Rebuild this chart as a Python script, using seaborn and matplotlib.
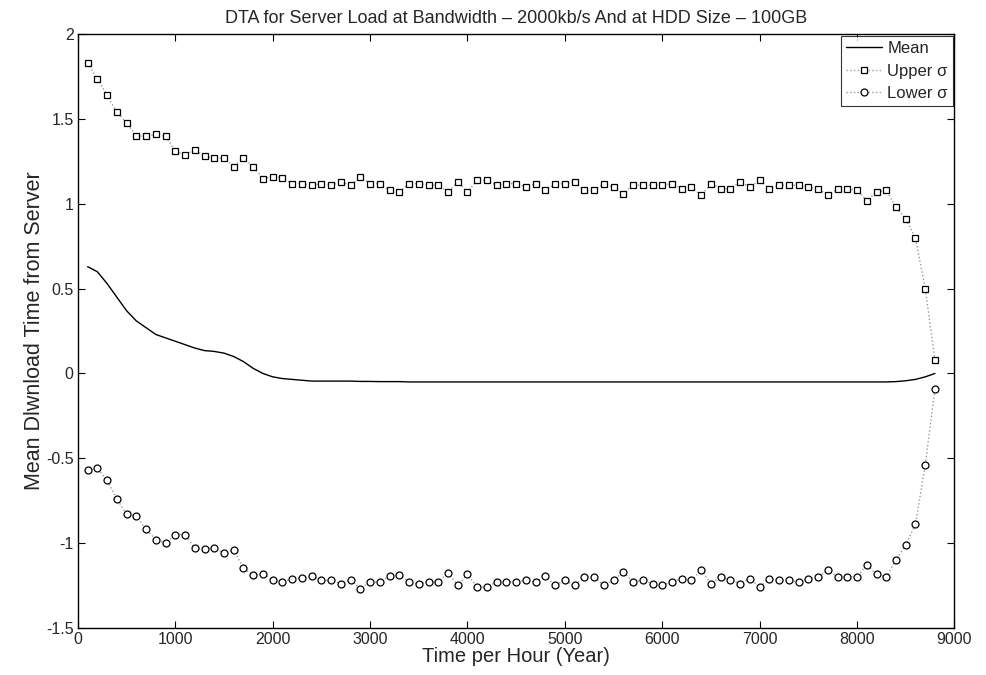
import numpy as np
import pandas as pd
import matplotlib
matplotlib.use("Agg")
import matplotlib.pyplot as plt
import seaborn as sns

# hours (x positions of the samples)
hours = [100, 200, 300, 400, 500, 600, 700, 800, 900, 1000,
         1100, 1200, 1300, 1400, 1500, 1600, 1700, 1800, 1900, 2000,
         2100, 2200, 2300, 2400, 2500, 2600, 2700, 2800, 2900, 3000,
         3100, 3200, 3300, 3400, 3500, 3600, 3700, 3800, 3900, 4000,
         4100, 4200, 4300, 4400, 4500, 4600, 4700, 4800, 4900, 5000,
         5100, 5200, 5300, 5400, 5500, 5600, 5700, 5800, 5900, 6000,
         6100, 6200, 6300, 6400, 6500, 6600, 6700, 6800, 6900, 7000,
         7100, 7200, 7300, 7400, 7500, 7600, 7700, 7800, 7900, 8000,
         8100, 8200, 8300, 8400, 8500, 8600, 8700, 8800]

mean_vals = [0.63, 0.60, 0.53, 0.45, 0.37, 0.31, 0.27, 0.23, 0.21, 0.19,
             0.17, 0.15, 0.135, 0.13, 0.12, 0.10, 0.07, 0.03, 0.00, -0.02,
             -0.03, -0.035, -0.04, -0.045, -0.045, -0.045, -0.045, -0.045, -0.047, -0.047,
             -0.048, -0.048, -0.048, -0.05, -0.05, -0.05, -0.05, -0.05, -0.05, -0.05,
             -0.05, -0.05, -0.05, -0.05, -0.05, -0.05, -0.05, -0.05, -0.05, -0.05,
             -0.05, -0.05, -0.05, -0.05, -0.05, -0.05, -0.05, -0.05, -0.05, -0.05,
             -0.05, -0.05, -0.05, -0.05, -0.05, -0.05, -0.05, -0.05, -0.05, -0.05,
             -0.05, -0.05, -0.05, -0.05, -0.05, -0.05, -0.05, -0.05, -0.05, -0.05,
             -0.05, -0.05, -0.05, -0.048, -0.043, -0.035, -0.02, 0.0]

upper_vals = [1.83, 1.74, 1.64, 1.54, 1.48, 1.40, 1.40, 1.41, 1.40, 1.31,
              1.29, 1.32, 1.28, 1.27, 1.27, 1.22, 1.27, 1.22, 1.15, 1.16,
              1.155, 1.12, 1.12, 1.11, 1.12, 1.11, 1.13, 1.11, 1.16, 1.12,
              1.12, 1.08, 1.07, 1.12, 1.12, 1.11, 1.11, 1.07, 1.13, 1.07,
              1.14, 1.14, 1.11, 1.12, 1.12, 1.10, 1.12, 1.08, 1.12, 1.12,
              1.13, 1.08, 1.08, 1.12, 1.10, 1.06, 1.11, 1.11, 1.11, 1.11,
              1.12, 1.09, 1.10, 1.05, 1.12, 1.09, 1.09, 1.13, 1.10, 1.14,
              1.09, 1.11, 1.11, 1.11, 1.10, 1.09, 1.05, 1.09, 1.09, 1.08,
              1.02, 1.07, 1.08, 0.98, 0.91, 0.80, 0.50, 0.08]

lower_vals = [-0.57, -0.56, -0.63, -0.74, -0.83, -0.84, -0.92, -0.98, -1.00, -0.95,
              -0.95, -1.03, -1.035, -1.03, -1.06, -1.04, -1.15, -1.19, -1.18, -1.22,
              -1.23, -1.21, -1.205, -1.195, -1.22, -1.22, -1.24, -1.22, -1.27, -1.23,
              -1.23, -1.195, -1.19, -1.23, -1.24, -1.23, -1.23, -1.175, -1.25, -1.185,
              -1.26, -1.26, -1.23, -1.23, -1.23, -1.22, -1.23, -1.195, -1.25, -1.22,
              -1.25, -1.20, -1.20, -1.25, -1.22, -1.17, -1.23, -1.22, -1.24, -1.25,
              -1.23, -1.21, -1.22, -1.16, -1.24, -1.20, -1.22, -1.24, -1.21, -1.26,
              -1.21, -1.22, -1.22, -1.23, -1.21, -1.20, -1.16, -1.20, -1.20, -1.20,
              -1.13, -1.185, -1.20, -1.10, -1.01, -0.89, -0.54, -0.09]

xticks = [0, 1000, 2000, 3000, 4000, 5000, 6000, 7000, 8000, 9000]
yticks = [-1.5, -1, -0.5, 0, 0.5, 1, 1.5, 2]
ytick_labels = ["-1.5", "-1", "-0.5", "0", "0.5", "1", "1.5", "2"]

sns.set_theme(style="ticks")
plt.rcParams['font.family'] = ['Liberation Sans', 'DejaVu Sans']
plt.rcParams['xtick.direction'] = 'in'
plt.rcParams['ytick.direction'] = 'in'

df = pd.DataFrame({"hour": hours, "mean": mean_vals,
                   "upper": upper_vals, "lower": lower_vals})

fig = plt.figure(figsize=(9.86, 6.75), dpi=100)
ax = fig.add_axes([0.079, 0.070, 0.889, 0.879])

sns.lineplot(data=df, x="hour", y="mean", ax=ax, color="black",
             linewidth=1.0, label="Mean")
sns.lineplot(data=df, x="hour", y="upper", ax=ax, color="#9a9a9a",
             linewidth=1.0, linestyle=":", marker="s", markersize=5,
             markerfacecolor="white", markeredgecolor="black",
             markeredgewidth=0.9, label="Upper σ")
sns.lineplot(data=df, x="hour", y="lower", ax=ax, color="#9a9a9a",
             linewidth=1.0, linestyle=":", marker="o", markersize=5,
             markerfacecolor="white", markeredgecolor="black",
             markeredgewidth=0.9, label="Lower σ")

ax.set_xlim(0, 9000)
ax.set_ylim(-1.5, 2)
ax.set_xticks(xticks)
ax.set_xticklabels([str(t) for t in xticks])
ax.set_yticks(yticks)
ax.set_yticklabels(ytick_labels)
ax.tick_params(axis="both", labelsize=11.5, length=5, width=0.8,
               top=True, right=True, color="black", pad=3)
for s in ax.spines.values():
    s.set_visible(True)
    s.set_color("black")
    s.set_linewidth(1.0)

ax.set_xlabel("Time per Hour (Year)", fontsize=14.5, labelpad=0)
ax.set_ylabel("Mean Dlwnload Time from Server", fontsize=15.5, labelpad=1)
ax.set_title("DTA for Server Load at Bandwidth – 2000kb/s And at HDD Size – 100GB",
             fontsize=13, pad=8)

leg = ax.legend(loc="upper right", fontsize=12, frameon=True, fancybox=False,
                borderpad=0.3, labelspacing=0.45, handlelength=2.2,
                handletextpad=0.3, borderaxespad=0.1)
leg.get_frame().set_edgecolor("black")
leg.get_frame().set_linewidth(0.8)

fig.savefig("out.png", dpi=100)
